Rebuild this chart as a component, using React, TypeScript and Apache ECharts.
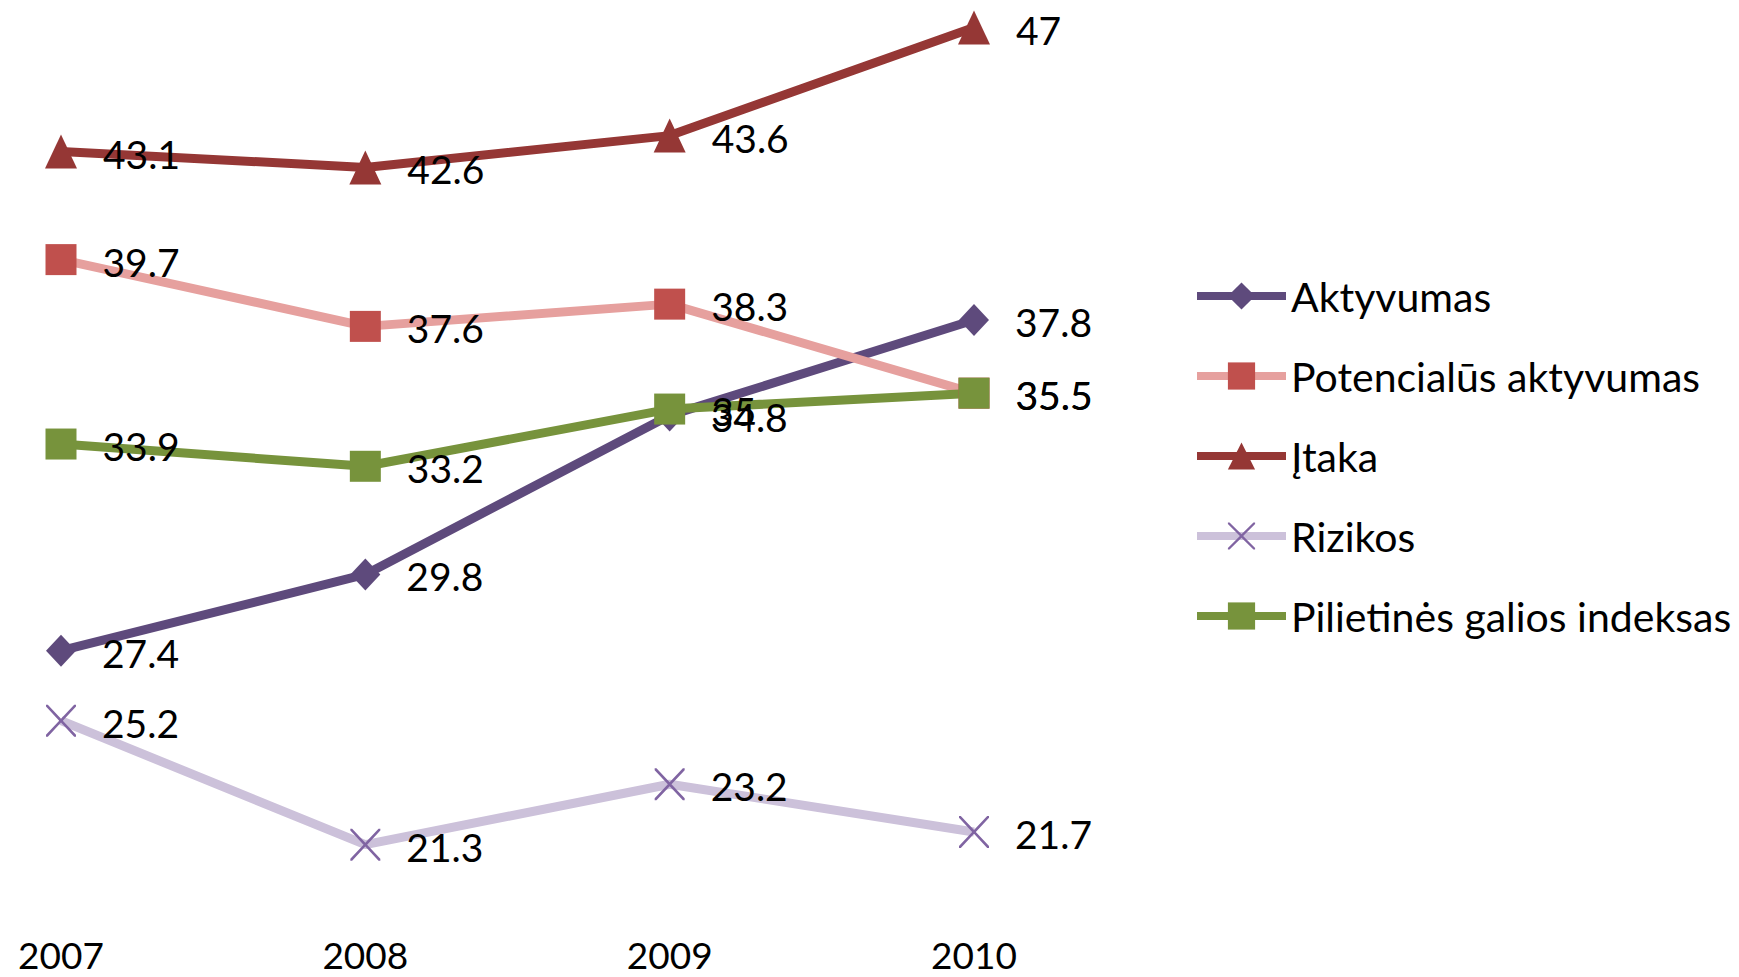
import React, { useEffect, useRef } from "react";
import * as echarts from "echarts";

const years = ["2007", "2008", "2009", "2010"];
const aktyvumas = [27.4, 29.8, 34.8, 37.8];
const potencialus = [39.7, 37.6, 38.3, 35.5];
const itaka = [43.1, 42.6, 43.6, 47];
const rizikos = [25.2, 21.3, 23.2, 21.7];
const pilietines = [33.9, 33.2, 35, 35.5];
const seriesNames = [
  "Aktyvumas",
  "Potencialūs aktyvumas",
  "Įtaka",
  "Rizikos",
  "Pilietinės galios indeksas",
];

const FONT = "Lato, 'Open Sans', sans-serif";
const X_PATH =
  "path://M0,0L1.2,0L10,8.8L18.8,0L20,0L20,1.2L11.2,10L20,18.8L20,20L18.8,20L10,11.2L1.2,20L0,20L0,18.8L8.8,10L0,1.2Z";

export default function App() {
  const ref = useRef<HTMLDivElement>(null);
  useEffect(() => {
    if (!ref.current) return;
    const chart = echarts.init(ref.current, null, { renderer: "svg" });
    const label = {
      show: true,
      position: "right" as const,
      distance: 26,
      color: "#000",
      fontFamily: FONT,
      fontSize: 39,
      offset: [0, 2],
    };
    const mk = (
      name: string,
      data: number[],
      lineColor: string,
      markColor: string,
      symbol: string,
      size: number[]
    ) => ({
      name,
      type: "line",
      data,
      symbol,
      symbolSize: size,
      lineStyle: { color: lineColor, width: 9 },
      itemStyle: { color: markColor },
      label,
      emphasis: { disabled: true },
    });
    chart.setOption({
      animation: false,
      backgroundColor: "#fff",
      grid: { left: 61, right: 765, top: 27.5, bottom: 91, containLabel: false },
      xAxis: {
        type: "category",
        data: years,
        boundaryGap: false,
        axisLine: { show: false },
        axisTick: { show: false },
        splitLine: { show: false },
        axisLabel: {
          color: "#000",
          fontFamily: FONT,
          fontSize: 37,
          lineHeight: 36,
          margin: 50,
        },
      },
      yAxis: {
        type: "value",
        min: 20,
        max: 47,
        show: false,
        splitLine: { show: false },
      },
      legend: {
        orient: "vertical",
        left: 1193,
        top: 275.5,
        padding: 0,
        itemWidth: 89,
        itemHeight: 34,
        itemGap: 39,
        textStyle: { color: "#000", fontFamily: FONT, fontSize: 41 },
        lineStyle: { width: 8 },
        data: seriesNames,
      },
      series: [
        mk(seriesNames[0], aktyvumas, "#5E4A7C", "#5E4A7C", "diamond", [30, 32]),
        mk(seriesNames[1], potencialus, "#E6A09E", "#C0504D", "rect", [31, 31]),
        mk(seriesNames[2], itaka, "#953735", "#953735", "triangle", [32, 34]),
        mk(seriesNames[3], rizikos, "#CCC1DA", "#8064A2", X_PATH, [30, 32]),
        mk(seriesNames[4], pilietines, "#77933C", "#77933C", "rect", [31, 31]),
      ],
    });
    return () => chart.dispose();
  }, []);
  return (
    <div
      ref={ref}
      style={{ position: "absolute", left: 0, top: 0, width: 1739, height: 977 }}
    />
  );
}
